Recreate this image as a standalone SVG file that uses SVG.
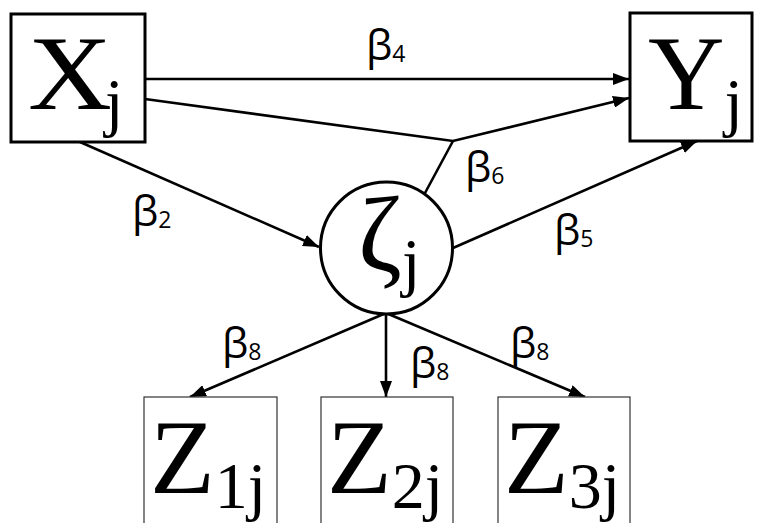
<svg xmlns="http://www.w3.org/2000/svg" width="757" height="523" viewBox="0 0 757 523">
<style>
.big{font-family:"Liberation Serif","Times New Roman",serif;font-size:106px;fill:#000}
.bsub{font-size:66px}
.lbl{font-family:"Open Sans","DejaVu Sans",sans-serif;font-size:42px;fill:#000}
.lsub{font-size:23px}
.thick{fill:#fff;stroke:#000;stroke-width:3}
.thin{fill:#fff;stroke:#333;stroke-width:1.2}
.edge{fill:none;stroke:#000;stroke-width:2.6}
</style>
<defs>
<marker id="ah" markerUnits="userSpaceOnUse" markerWidth="18" markerHeight="12" refX="16" refY="6" orient="auto">
<path d="M0,0 L16,6 L0,12 z" fill="#000"/>
</marker>
</defs>
<rect width="757" height="523" fill="#fff"/>
<g id="connectors">
<line class="edge" x1="145" y1="79" x2="629" y2="79" marker-end="url(#ah)"/>
<polyline class="edge" points="145,99 453,141 629,98" marker-end="url(#ah)"/>
<line class="edge" x1="425" y1="193" x2="453" y2="141"/>
<line class="edge" x1="80" y1="142" x2="319" y2="247" marker-end="url(#ah)"/>
<line class="edge" x1="453" y1="248" x2="697" y2="141" marker-end="url(#ah)"/>
<line class="edge" x1="386" y1="313" x2="190" y2="397" marker-end="url(#ah)"/>
<line class="edge" x1="386" y1="313" x2="386" y2="397" marker-end="url(#ah)"/>
<line class="edge" x1="386" y1="313" x2="585" y2="397" marker-end="url(#ah)"/>
<text class="lbl" x="366" y="60">β<tspan class="lsub" dy="2">4</tspan></text>
<text class="lbl" x="132" y="226">β<tspan class="lsub" dy="2">2</tspan></text>
<text class="lbl" x="554" y="245">β<tspan class="lsub" dy="2">5</tspan></text>
<text class="lbl" x="465" y="182">β<tspan class="lsub" dy="2">6</tspan></text>
<text class="lbl" x="222" y="358">β<tspan class="lsub" dy="2">8</tspan></text>
<text class="lbl" x="410" y="378">β<tspan class="lsub" dy="2">8</tspan></text>
<text class="lbl" x="510" y="358">β<tspan class="lsub" dy="2">8</tspan></text>
</g>
<g id="X">
<rect class="thick" x="11" y="14" width="134" height="128"/>
<text class="big" x="28" y="109" textLength="84" lengthAdjust="spacingAndGlyphs">X</text>
<text class="big bsub" x="105" y="124">j</text>
</g>
<g id="Y">
<rect class="thick" x="630" y="13" width="122" height="128"/>
<text class="big" x="648" y="109">Y<tspan class="bsub" dy="15">j</tspan></text>
</g>
<g id="zeta">
<circle class="thick" cx="386.5" cy="248" r="66" stroke-width="2.6"/>
<text class="big" x="358" y="270" font-size="106">ζ<tspan class="bsub" dy="14">j</tspan></text>
</g>
<g id="Z1">
<rect class="thin" x="144" y="397" width="133" height="130"/>
<text class="big" x="150" y="493">Z<tspan class="bsub" dy="15">1j</tspan></text>
</g>
<g id="Z2">
<rect class="thin" x="321" y="397" width="132" height="130"/>
<text class="big" x="327" y="493">Z<tspan class="bsub" dy="15">2j</tspan></text>
</g>
<g id="Z3">
<rect class="thin" x="498" y="397" width="132" height="130"/>
<text class="big" x="504" y="493">Z<tspan class="bsub" dy="15">3j</tspan></text>
</g>
</svg>
